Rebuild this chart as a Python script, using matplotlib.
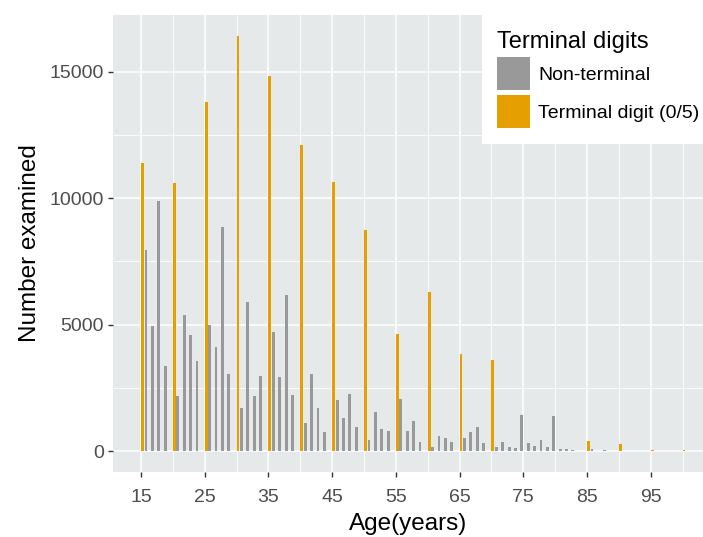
import matplotlib
matplotlib.use("Agg")
import matplotlib.pyplot as plt
from matplotlib.patches import Patch
import numpy as np

plt.rcParams["font.family"] = ["Liberation Sans", "DejaVu Sans"]

AGES = list(range(15, 101))
# counts, one value per age (0 = no bar)
NON_TERMINAL = [
    0, 7950, 4950, 9900, 3370,      # 15-19
    0, 2170, 5400, 4580, 3550,      # 20-24
    0, 5000, 4120, 8880, 3050,      # 25-29
    0, 1710, 5900, 2170, 2970,      # 30-34
    0, 4710, 2920, 6160, 2240,      # 35-39
    0, 1130, 3050, 1720, 760,       # 40-44
    0, 2030, 1310, 2280, 940,       # 45-49
    0, 450, 1570, 880, 810,         # 50-54
    0, 2060, 810, 1200, 380,        # 55-59
    0, 180, 620, 510, 380,          # 60-64
    0, 510, 750, 940, 330,          # 65-69
    0, 170, 380, 180, 140,          # 70-74
    1420, 310, 215, 460, 175,       # 75-79
    1400, 80, 80, 67, 0,            # 80-84
    0, 70, 0, 60, 0,                # 85-89
    0, 0, 0, 0, 0,                  # 90-94
    0, 0, 0, 0, 0,                  # 95-99
    0,                              # 100
]
TERMINAL = [
    11400, 0, 0, 0, 0,
    10600, 0, 0, 0, 0,
    13800, 0, 0, 0, 0,
    16420, 0, 0, 0, 0,
    14840, 0, 0, 0, 0,
    12120, 0, 0, 0, 0,
    10630, 0, 0, 0, 0,
    8740, 0, 0, 0, 0,
    4650, 0, 0, 0, 0,
    6280, 0, 0, 0, 0,
    3850, 0, 0, 0, 0,
    3590, 0, 0, 0, 0,
    0, 0, 0, 0, 0,
    0, 0, 0, 0, 0,
    400, 0, 0, 0, 0,
    280, 0, 0, 0, 0,
    65, 0, 0, 0, 0,
    65,
]
GROUP_LABELS = ["Non-terminal", "Terminal digit (0/5)"]
GROUP_COLORS = ["#999999", "#E69F00"]
LEGEND_TITLE = "Terminal digits"

PANEL_BG = "#E5E9E9"
TEXT_GREY = "#4D4D4D"


def main():
    fig = plt.figure(figsize=(7.03, 5.37), dpi=100)
    ax = fig.add_axes([113 / 703, 1 - 472 / 537, 590 / 703, 457 / 537])
    ax.set_facecolor(PANEL_BG)

    ages = np.array(AGES, dtype=float)
    slot = 0.45
    ax.bar(ages - slot / 2, NON_TERMINAL, width=slot, color=GROUP_COLORS[0],
           linewidth=0, zorder=3)
    ax.bar(ages + slot / 2, TERMINAL, width=slot, color=GROUP_COLORS[1],
           linewidth=0, zorder=3)

    ymax = max(max(NON_TERMINAL), max(TERMINAL))
    ax.set_ylim(-0.05 * ymax, 1.05 * ymax)
    ax.set_xlim(10.6, 103.2)

    ax.set_xticks(range(15, 100, 10))
    ax.set_xticks(range(20, 101, 10), minor=True)
    ax.set_yticks([0, 5000, 10000, 15000])
    ax.set_yticks([2500, 7500, 12500], minor=True)

    ax.grid(True, which="major", color="white", linewidth=1.1, zorder=1)
    ax.grid(True, which="minor", color="white", linewidth=0.6, zorder=1)
    ax.set_axisbelow(True)

    for spine in ax.spines.values():
        spine.set_visible(False)

    ax.tick_params(which="major", length=3.5, width=1, color="#333333",
                   labelsize=14, labelcolor=TEXT_GREY)
    ax.tick_params(axis="x", which="major", pad=9)
    ax.tick_params(axis="y", which="major", pad=3)
    ax.tick_params(which="minor", length=0)

    ax.set_xlabel("Age(years)", fontsize=17.5, labelpad=5)
    ax.set_ylabel("Number examined", fontsize=17.5, labelpad=6)

    handles = [Patch(facecolor=c, edgecolor="none") for c in GROUP_COLORS]
    leg = ax.legend(
        handles, GROUP_LABELS, title=LEGEND_TITLE,
        loc="upper right", bbox_to_anchor=(1.0 + 12 / 590, 1.0),
        borderaxespad=0,
        fontsize=14, title_fontsize=17, alignment="left",
        handlelength=1.7, handleheight=2.23, handletextpad=0.4,
        labelspacing=0.25, borderpad=0.8,
        frameon=True, fancybox=False, framealpha=1,
    )
    leg.get_frame().set_facecolor("white")
    leg.get_frame().set_edgecolor("none")
    leg.set_zorder(5)

    fig.savefig("out.png", dpi=100)
    plt.close(fig)


if __name__ == "__main__":
    main()
